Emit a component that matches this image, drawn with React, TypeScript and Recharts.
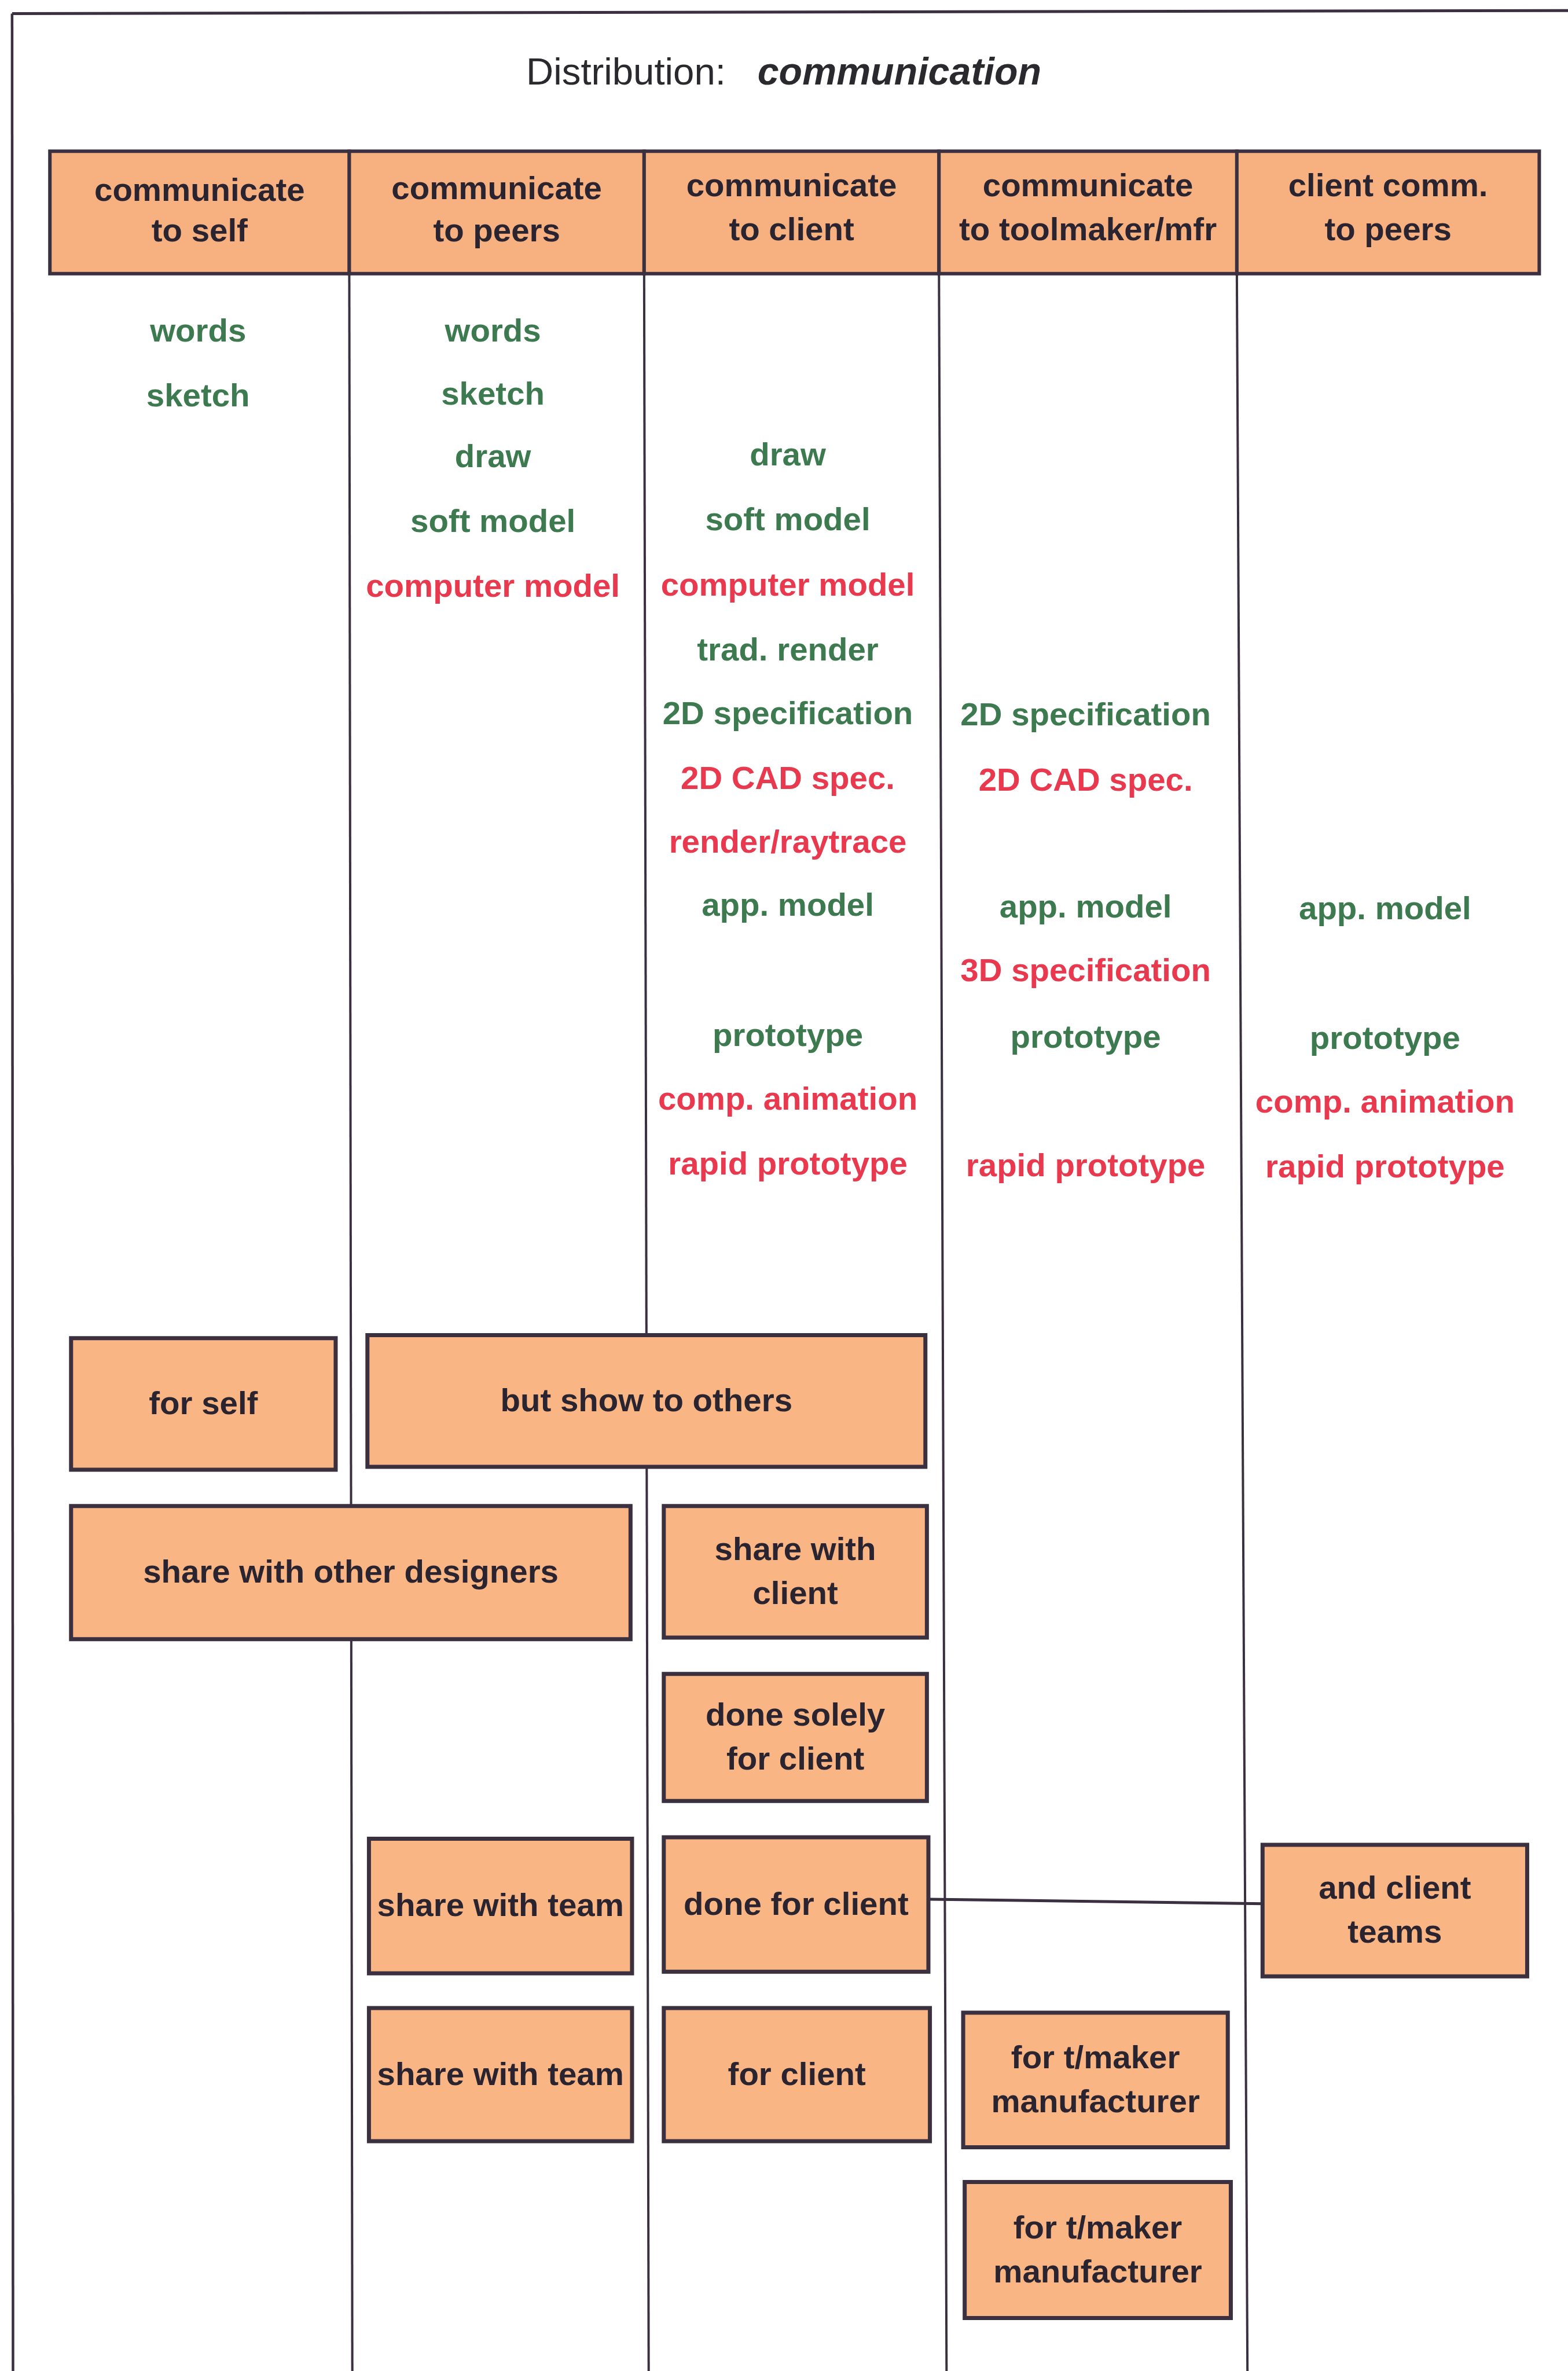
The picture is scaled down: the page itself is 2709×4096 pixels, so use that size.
import React from "react";
import {
  ScatterChart,
  Scatter,
  XAxis,
  YAxis,
  ReferenceArea,
  ReferenceLine,
} from "recharts";

// page is 2709x4096, diagram is laid out in a 1037x1568 grid
const W = 2709;
const H = 4096;
const GRID_W = 1037;
const GRID_H = 1568;
const K = W / GRID_W;

const FONT = '"Liberation Sans", Arial, Helvetica, sans-serif';
const GREEN = "#3d7a50";
const RED = "#e8394f";
const INK = "#2a2430";
const LINE = "#3a3040";
const BOX_FILL = "#f9b684";
const HEAD_FILL = "#f7b080";

// header cells
const headerEdges = [33, 231, 426, 621, 818, 1018];
const headerTop = 100;
const headerBottom = 181;
const headerLabels = [
  ["communicate", "to self"],
  ["communicate", "to peers"],
  ["communicate", "to client"],
  ["communicate", "to toolmaker/mfr"],
  ["client comm.", "to peers"],
];
const headerRows = [
  [125, 152],
  [124, 152],
  [122, 151],
  [122, 151],
  [122, 151],
];

// column rules (x at top, x at bottom of page)
const ruleTop = [231, 426, 621, 818];
const ruleBottom = [233, 429, 626, 825];

// media listed under each column: [column, row y, text, computer-based]
const colCenters = [131, 326, 521, 718, 916];
const media: [number, number, string, boolean][] = [
  [0, 218, "words", false],
  [0, 261, "sketch", false],
  [1, 218, "words", false],
  [1, 260, "sketch", false],
  [1, 301, "draw", false],
  [1, 344, "soft model", false],
  [1, 387, "computer model", true],
  [2, 300, "draw", false],
  [2, 343, "soft model", false],
  [2, 386, "computer model", true],
  [2, 429, "trad. render", false],
  [2, 471, "2D specification", false],
  [2, 514, "2D CAD spec.", true],
  [2, 556, "render/raytrace", true],
  [2, 598, "app. model", false],
  [2, 684, "prototype", false],
  [2, 726, "comp. animation", true],
  [2, 769, "rapid prototype", true],
  [3, 472, "2D specification", false],
  [3, 515, "2D CAD spec.", true],
  [3, 599, "app. model", false],
  [3, 641, "3D specification", true],
  [3, 685, "prototype", false],
  [3, 770, "rapid prototype", true],
  [4, 600, "app. model", false],
  [4, 686, "prototype", false],
  [4, 728, "comp. animation", true],
  [4, 771, "rapid prototype", true],
];

// audience boxes: [x1, x2, y1, y2, lines]
const boxes: [number, number, number, number, string[]][] = [
  [47, 222, 885, 972, ["for self"]],
  [243, 612, 883, 970, ["but show to others"]],
  [47, 417, 996, 1084, ["share with other designers"]],
  [439, 613, 996, 1083, ["share with", "client"]],
  [439, 613, 1107, 1191, ["done solely", "for client"]],
  [244, 418, 1216, 1305, ["share with team"]],
  [439, 614, 1215, 1304, ["done for client"]],
  [835, 1010, 1220, 1307, ["and client", "teams"]],
  [244, 418, 1328, 1416, ["share with team"]],
  [439, 615, 1328, 1416, ["for client"]],
  [637, 812, 1331, 1420, ["for t/maker", "manufacturer"]],
  [638, 814, 1443, 1533, ["for t/maker", "manufacturer"]],
];

// link from "done for client" to "and client teams"
const link = [
  { x: 614, y: 1256 },
  { x: 835, y: 1259 },
];

const FS = 21.6 * K;
const LINE_GAP = 14.5;

type Label = { x: number; y: number; text: string; color: string };

const labels: Label[] = [];
headerLabels.forEach((pair, i) => {
  const cx = (headerEdges[i] + headerEdges[i + 1]) / 2;
  pair.forEach((t, j) =>
    labels.push({ x: cx, y: headerRows[i][j], text: t, color: INK })
  );
});
media.forEach(([c, y, t, cad]) =>
  labels.push({ x: colCenters[c], y, text: t, color: cad ? RED : GREEN })
);
boxes.forEach(([x1, x2, y1, y2, lines]) => {
  const cx = (x1 + x2) / 2;
  const cy = (y1 + y2) / 2 - 1;
  lines.forEach((t, j) => {
    const off = lines.length === 1 ? 0 : j === 0 ? -LINE_GAP : LINE_GAP;
    labels.push({ x: cx, y: cy + off, text: t, color: INK });
  });
});

const titlePoint = [{ x: 348, y: 47 }];

const LabelShape = (props: any) => {
  const { cx, cy, payload } = props;
  return (
    <text
      x={cx}
      y={cy}
      dy="0.36em"
      textAnchor="middle"
      fontFamily={FONT}
      fontWeight="bold"
      fontSize={FS}
      fill={payload.color}
    >
      {payload.text}
    </text>
  );
};

const TitleShape = (props: any) => {
  const { cx, cy } = props;
  return (
    <text x={cx} y={cy} dy="0.36em" fontFamily={FONT} fontSize={25 * K} fill="#2a2a2e">
      <tspan>Distribution:</tspan>
      <tspan dx={21 * K} fontSize={25.4 * K} fontWeight="bold" fontStyle="italic">
        communication
      </tspan>
    </text>
  );
};

export default function App() {
  return (
    <div style={{ width: W, height: H, background: "#fff" }}>
      <style>{"body{margin:0;background:#fff}"}</style>
      <ScatterChart
        width={W}
        height={H}
        margin={{ top: 0, right: 0, bottom: 0, left: 0 }}
      >
        <XAxis type="number" dataKey="x" domain={[0, GRID_W]} hide allowDataOverflow />
        <YAxis
          type="number"
          dataKey="y"
          domain={[0, GRID_H]}
          reversed
          hide
          allowDataOverflow
        />

        {/* outer frame */}
        <ReferenceLine
          segment={[
            { x: 8, y: 9 },
            { x: GRID_W, y: 7 },
          ]}
          stroke={LINE}
          strokeWidth={5}
          ifOverflow="visible"
          zIndex={-10}
        />
        <ReferenceLine
          segment={[
            { x: 8, y: 9 },
            { x: 8.6, y: GRID_H },
          ]}
          stroke={LINE}
          strokeWidth={4.5}
          ifOverflow="visible"
          zIndex={-10}
        />

        {ruleTop.map((x, i) => (
          <ReferenceLine
            key={"rule" + i}
            segment={[
              { x, y: headerBottom },
              { x: ruleBottom[i], y: GRID_H },
            ]}
            stroke={LINE}
            strokeWidth={4}
            ifOverflow="visible"
            zIndex={-10}
          />
        ))}

        <ReferenceLine
          segment={link}
          stroke={LINE}
          strokeWidth={5}
          ifOverflow="visible"
          zIndex={-10}
        />

        {headerLabels.map((_, i) => (
          <ReferenceArea
            key={"head" + i}
            x1={headerEdges[i]}
            x2={headerEdges[i + 1]}
            y1={headerTop}
            y2={headerBottom}
            fill={HEAD_FILL}
            fillOpacity={1}
            stroke={LINE}
            strokeWidth={6}
            ifOverflow="visible"
            zIndex={10}
          />
        ))}

        {boxes.map(([x1, x2, y1, y2], i) => (
          <ReferenceArea
            key={"box" + i}
            x1={x1}
            x2={x2}
            y1={y1}
            y2={y2}
            fill={BOX_FILL}
            fillOpacity={1}
            stroke={LINE}
            strokeWidth={7}
            ifOverflow="visible"
            zIndex={10}
          />
        ))}

        <Scatter data={titlePoint} shape={TitleShape} isAnimationActive={false} zIndex={100} />
        <Scatter data={labels} shape={LabelShape} isAnimationActive={false} zIndex={100} />
      </ScatterChart>
    </div>
  );
}
